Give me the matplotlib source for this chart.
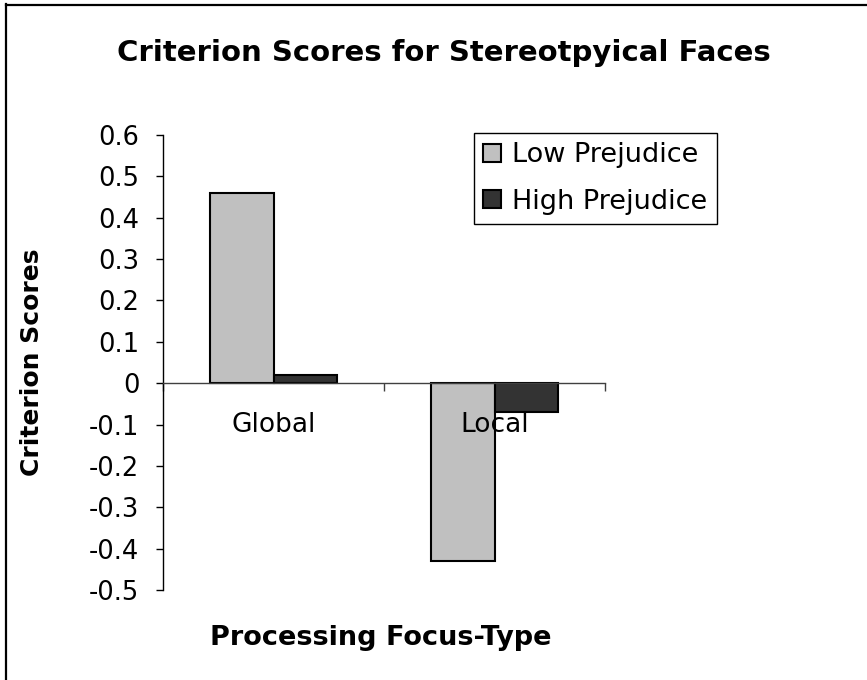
import matplotlib
matplotlib.use('Agg')
import matplotlib.pyplot as plt
from matplotlib.lines import Line2D
import numpy as np

plt.rcParams['font.family'] = 'DejaVu Sans'

# data
categories = ['Global', 'Local']
low_prejudice = [0.46, -0.43]
high_prejudice = [0.02, -0.07]
y_ticks = [0.6, 0.5, 0.4, 0.3, 0.2, 0.1, 0, -0.1, -0.2, -0.3, -0.4, -0.5]
y_labels = ['0.6', '0.5', '0.4', '0.3', '0.2', '0.1', '0', '-0.1', '-0.2', '-0.3', '-0.4', '-0.5']

fig = plt.figure(figsize=(8.67, 6.8), dpi=100)
ax = fig.add_axes([163/867, 1-590/680, (605-163)/867, (590-135)/680])

x = np.arange(len(categories)) + 0.5
w = 0.288
ax.bar(x - w/2, low_prejudice, w, color='#c0c0c0', edgecolor='black', linewidth=1.5, label='Low Prejudice')
ax.bar(x + w/2, high_prejudice, w, color='#333333', edgecolor='black', linewidth=1.5, label='High Prejudice')

ax.set_xlim(0, 2)
ax.set_ylim(-0.5, 0.6)

ax.spines['top'].set_visible(False)
ax.spines['right'].set_visible(False)
ax.spines['bottom'].set_position(('data', 0))
ax.spines['bottom'].set_color('#404040')
ax.spines['bottom'].set_linewidth(1.0)
ax.spines['left'].set_linewidth(1.0)

ax.set_yticks(y_ticks)
ax.set_yticklabels(y_labels)
ax.tick_params(axis='y', direction='out', length=5, width=1, pad=12, labelsize=18.5)

ax.set_xticks([0, 1, 2])
ax.set_xticklabels([])
ax.set_xticks(x, minor=True)
ax.set_xticklabels(categories, minor=True)
ax.tick_params(axis='x', which='major', direction='out', length=6, width=1, color='#404040')
ax.tick_params(axis='x', which='minor', length=0, pad=21, labelsize=19)

fig.text(444/867, 1-53/680, 'Criterion Scores for Stereotpyical Faces', ha='center', va='center',
         fontsize=21, fontweight='bold')
fig.text(32/867, 1-362/680, 'Criterion Scores', ha='center', va='center', rotation=90,
         fontsize=18, fontweight='bold')
fig.text(381/867, 1-638/680, 'Processing Focus-Type', ha='center', va='center',
         fontsize=19.5, fontweight='bold')

leg = ax.legend(loc='upper left', bbox_to_anchor=(474/867, 1-133/680), bbox_transform=fig.transFigure,
                borderaxespad=0, fontsize=19.5, fancybox=False, shadow=False, framealpha=1,
                edgecolor='black', handlelength=0.65, handleheight=0.65, handletextpad=0.4,
                labelspacing=0.75, borderpad=0.35)
leg.get_frame().set_linewidth(1.0)

# frame lines at the top and left of the picture
fig.add_artist(Line2D([6/867, 6/867], [0, 1-4/680], transform=fig.transFigure, color='black', linewidth=1.6))
fig.add_artist(Line2D([6/867, 1], [1-4.5/680, 1-4.5/680], transform=fig.transFigure, color='black', linewidth=1.6))

plt.savefig('out.png', dpi=100)
